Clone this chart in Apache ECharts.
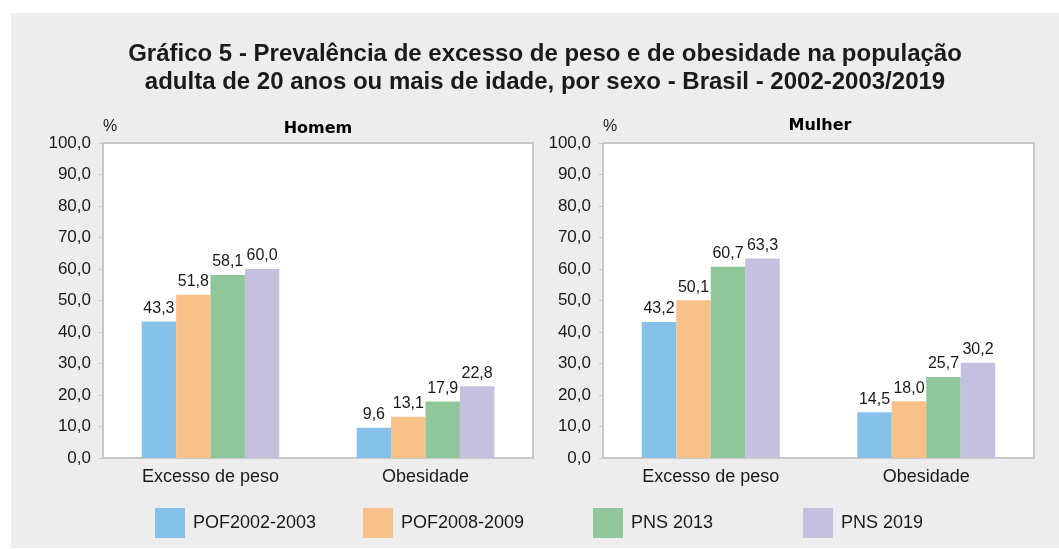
<!DOCTYPE html>
<html>
<head>
<meta charset="utf-8">
<script src="https://cdn.jsdelivr.net/npm/echarts@6/dist/echarts.min.js"></script>
<style>
html,body{margin:0;padding:0;background:#fff;}
#chart{width:1059px;height:549px;}
</style>
</head>
<body>
<div id="chart"></div>
<script>
const categories = ['Excesso de peso', 'Obesidade'];
const seriesNames = ['POF2002-2003', 'POF2008-2009', 'PNS 2013', 'PNS 2019'];
const homem_pof2002 = [43.3, 9.6];
const homem_pof2008 = [51.8, 13.1];
const homem_pns2013 = [58.1, 17.9];
const homem_pns2019 = [60.0, 22.8];
const mulher_pof2002 = [43.2, 14.5];
const mulher_pof2008 = [50.1, 18.0];
const mulher_pns2013 = [60.7, 25.7];
const mulher_pns2019 = [63.3, 30.2];
const yTicks = [0, 10, 20, 30, 40, 50, 60, 70, 80, 90, 100];

const colors = ['#85c1e9', '#f9c18a', '#8fc79a', '#c5c0e0'];
const fmt = v => Number(v).toFixed(1).replace('.', ',');
const FONT = '"Liberation Sans", Arial, sans-serif';

const homem = [homem_pof2002, homem_pof2008, homem_pns2013, homem_pns2019];
const mulher = [mulher_pof2002, mulher_pof2008, mulher_pns2013, mulher_pns2019];

function makeSeries(dataSets, idx) {
  return dataSets.map((d, i) => ({
    name: seriesNames[i],
    type: 'bar',
    xAxisIndex: idx,
    yAxisIndex: idx,
    data: d,
    barGap: '0%',
    barCategoryGap: '36%',
    itemStyle: { color: colors[i] },
    label: {
      show: true,
      position: 'top',
      distance: 5,
      fontFamily: FONT,
      fontSize: 16,
      color: '#1a1a1a',
      formatter: p => fmt(p.value)
    }
  }));
}

function makeX(idx) {
  return {
    type: 'category',
    gridIndex: idx,
    data: categories,
    axisLine: { lineStyle: { color: '#c8c8c8', width: 2 } },
    axisTick: { show: false },
    axisLabel: { fontFamily: FONT, fontSize: 18, color: '#1a1a1a', margin: 10 }
  };
}

function makeY(idx) {
  return {
    type: 'value',
    gridIndex: idx,
    min: yTicks[0],
    max: yTicks[yTicks.length - 1],
    interval: yTicks[1] - yTicks[0],
    name: '%',
    nameLocation: 'end',
    nameGap: 8,
    nameTextStyle: { fontFamily: FONT, fontSize: 16, color: '#1a1a1a', align: 'left' },
    axisLine: { show: true, lineStyle: { color: '#c8c8c8', width: 2 } },
    axisTick: { show: true, length: 4, lineStyle: { color: '#c8c8c8' } },
    splitLine: { show: false },
    axisLabel: { fontFamily: FONT, fontSize: 17, color: '#1a1a1a', margin: 12, formatter: v => fmt(v) }
  };
}

const legendLefts = [155, 363, 593, 803];

const chart = echarts.init(document.getElementById('chart'), null, { renderer: 'canvas' });
chart.setOption({
  backgroundColor: '#ffffff',
  animation: false,
  graphic: [{
    type: 'rect', z: -10, silent: true,
    shape: { x: 11, y: 13, width: 1048, height: 535 },
    style: { fill: '#ededed' }
  }],
  title: [
    {
      text: 'Gráfico 5 - Prevalência de excesso de peso e de obesidade na população\nadulta de 20 anos ou mais de idade, por sexo - Brasil - 2002-2003/2019',
      left: 540, top: 35, textAlign: 'center',
      textStyle: { fontFamily: FONT, fontSize: 24, fontWeight: 'bold', color: '#1a1a1a', lineHeight: 28 }
    },
    {
      text: 'Homem', left: 313, top: 116, textAlign: 'center',
      textStyle: { fontFamily: '"DejaVu Sans", sans-serif', fontSize: 16, fontWeight: 'bold', color: '#000' }
    },
    {
      text: 'Mulher', left: 815, top: 113, textAlign: 'center',
      textStyle: { fontFamily: '"DejaVu Sans", sans-serif', fontSize: 16, fontWeight: 'bold', color: '#000' }
    }
  ],
  legend: seriesNames.map((n, i) => ({
    data: [n],
    left: legendLefts[i],
    top: 508,
    padding: 0,
    itemWidth: 30,
    itemHeight: 30,
    icon: 'rect',
    selectedMode: false,
    textStyle: { fontFamily: FONT, fontSize: 18, color: '#1a1a1a', padding: [0, 0, 0, 3] }
  })),
  grid: [
    { left: 103, top: 143, width: 430, height: 315, show: true, backgroundColor: '#fff', borderColor: '#c8c8c8', borderWidth: 2 },
    { left: 603, top: 143, width: 431, height: 315, show: true, backgroundColor: '#fff', borderColor: '#c8c8c8', borderWidth: 2 }
  ],
  xAxis: [makeX(0), makeX(1)],
  yAxis: [makeY(0), makeY(1)],
  series: [...makeSeries(homem, 0), ...makeSeries(mulher, 1)]
});
</script>
</body>
</html>
